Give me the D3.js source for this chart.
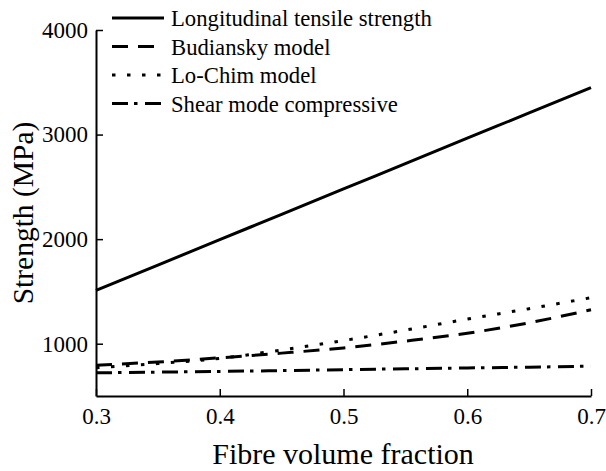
<!DOCTYPE html>
<html><head><meta charset="utf-8">
<script src="https://cdn.jsdelivr.net/npm/d3@7"></script>
<style>body{margin:0;background:#fff}</style>
</head><body><svg id="c" width="606" height="471"></svg>
<script>
const fractions = [0.3, 0.35, 0.4, 0.45, 0.5, 0.55, 0.6, 0.65, 0.7];
const longitudinal = [1510, 1752, 1995, 2237, 2480, 2722, 2965, 3207, 3450];
const budiansky = [795, 825, 865, 910, 960, 1025, 1100, 1200, 1325];
const loChim = [770, 810, 860, 940, 1030, 1130, 1235, 1335, 1440];
const shear = [722, 728, 735, 743, 752, 760, 768, 776, 785];
const xTicks = [0.3, 0.4, 0.5, 0.6, 0.7];
const yTicks = [1000, 2000, 3000, 4000];
const seriesNames = ["Longitudinal tensile strength", "Budiansky model", "Lo-Chim model", "Shear mode compressive"];

const FONT = "'Liberation Serif', Tinos, 'Times New Roman', Times, 'DejaVu Serif', serif";
const svg = d3.select("#c");
const x = d3.scaleLinear().domain([0.3, 0.7]).range([96, 591]);
const y = d3.scaleLinear().domain([500, 4000]).range([396, 30]);

const series = [
  {name: seriesNames[0], vals: longitudinal, dash: null},
  {name: seriesNames[1], vals: budiansky, dash: "16,10"},
  {name: seriesNames[2], vals: loChim, dash: "3.5,11.5"},
  {name: seriesNames[3], vals: shear, dash: "16,6,3.5,7.5"}
];

const gx = svg.append("g").attr("transform", "translate(0,396)")
  .call(d3.axisBottom(x).tickValues(xTicks).tickSizeInner(-7).tickSizeOuter(0).tickPadding(12).tickFormat(d3.format(".1f")));
const gy = svg.append("g").attr("transform", "translate(96,0)")
  .call(d3.axisLeft(y).tickValues(yTicks).tickSizeInner(-7).tickSizeOuter(0).tickPadding(8).tickFormat(d3.format("d")));
[gx, gy].forEach(g => g.attr("font-family", null).attr("font-size", null));
svg.selectAll(".tick text").style("font-family", FONT).style("font-size", "23px");
svg.selectAll(".domain").attr("stroke", "#000").attr("stroke-width", 2);
svg.selectAll(".tick line").attr("stroke", "#000").attr("stroke-width", 1.5);

const line = d3.line().x((d, i) => x(fractions[i])).y(d => y(d)).curve(d3.curveMonotoneX);
series.forEach(s => {
  svg.append("path").datum(s.vals).attr("d", line).attr("fill", "none")
    .attr("stroke", "#000").attr("stroke-width", 3)
    .attr("stroke-dasharray", s.dash).attr("stroke-linecap", "butt");
});

const leg = svg.append("g");
series.forEach((s, i) => {
  const yy = 18 + i * 28.5;
  leg.append("line").attr("x1", 112).attr("x2", 164).attr("y1", yy).attr("y2", yy)
    .attr("stroke", "#000").attr("stroke-width", 3).attr("stroke-dasharray", s.dash);
  leg.append("text").attr("x", 171).attr("y", yy + 8).style("font-family", FONT).style("font-size", "22.7px").text(s.name);
});

svg.append("text").attr("x", 343).attr("y", 464).attr("text-anchor", "middle")
  .style("font-family", FONT).style("font-size", "30px").text("Fibre volume fraction");
svg.append("text").attr("transform", "translate(33,213) rotate(-90)").attr("text-anchor", "middle")
  .style("font-family", FONT).style("font-size", "29.5px").text("Strength (MPa)");
</script></body></html>
